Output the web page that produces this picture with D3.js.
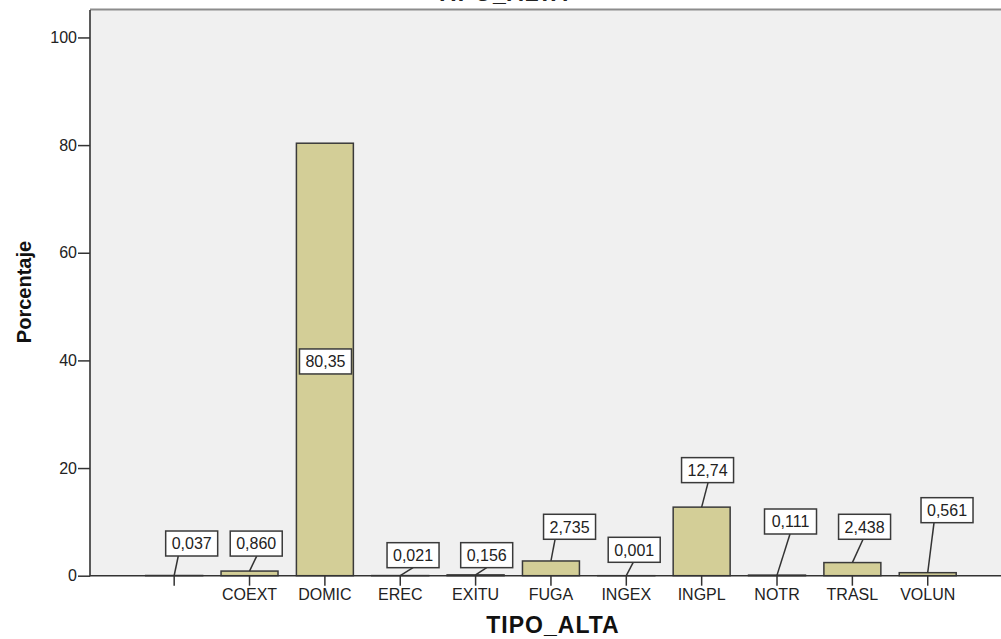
<!DOCTYPE html>
<html>
<head>
<meta charset="utf-8">
<script src="https://cdn.jsdelivr.net/npm/d3@7"></script>
<style>
  html, body { margin: 0; padding: 0; background: #ffffff; }
  svg { display: block; }
  text { font-family: "Liberation Sans", Arial, sans-serif; }
</style>
</head>
<body>
<svg id="chart" width="1001" height="639"></svg>
<script>
// ---- data ----
const categories = ["", "COEXT", "DOMIC", "EREC", "EXITU", "FUGA", "INGEX", "INGPL", "NOTR", "TRASL", "VOLUN"];
const values     = [0.037, 0.860, 80.35, 0.021, 0.156, 2.735, 0.001, 12.74, 0.111, 2.438, 0.561];
const valueLabels = ["0,037", "0,860", "80,35", "0,021", "0,156", "2,735", "0,001", "12,74", "0,111", "2,438", "0,561"];
const yTicks = [0, 20, 40, 60, 80, 100];

// ---- label placement (px offsets, layout only) ----
const labelDx   = [17.5, 6.7, 0.6, 12.8, 11.1, 18.6, 7.9, 5.9, 13.5, 12.2, 19.3];
const labelDy   = [-19.5, -15, 0, -7.9, -7.2, -21.7, -13.4, -24.5, -41.1, -23.3, -50];
const lineDx    = [-13.4, 0.5, 0, 0, 0, -14.5, -1, 0.5, -0.5, -1.5, -13];
const inside    = [false, false, true, false, false, false, false, false, false, false, false];

(function () {
const svg = d3.select("#chart");
const pLeft = 90, pTop = 10, pBottom = 575.7, pRight = 1001;

const x = d3.scaleBand().domain(categories.map((c, i) => i))
  .range([136.5, 965.4]).paddingInner(0.244).paddingOuter(0.122);
const y = d3.scaleLinear().domain([0, 105.1]).range([pBottom, pTop]);

// plot background
svg.append("rect").attr("x", pLeft).attr("y", pTop).attr("width", pRight - pLeft).attr("height", pBottom - pTop)
  .attr("fill", "#f0f0f0");
svg.append("line").attr("x1", pLeft).attr("x2", pRight).attr("y1", pTop - 0.5).attr("y2", pTop - 0.5)
  .attr("stroke", "#8c8c8c").attr("stroke-width", 2);

// top (cut off by the picture's edge, as in the reference) title
svg.append("text").attr("x", 502).attr("y", 0.5).attr("text-anchor", "middle")
  .attr("font-size", 23).attr("font-weight", "bold").attr("fill", "#222")
  .attr("letter-spacing", 1).text("TIPO_ALTA");

// bars
svg.append("g").selectAll("rect").data(values).join("rect")
  .attr("x", (d, i) => x(i))
  .attr("y", d => y(d))
  .attr("width", x.bandwidth())
  .attr("height", d => Math.max(0, y(0) - y(d)))
  .attr("fill", "#d3ce97")
  .attr("stroke", "#3a3a3a")
  .attr("stroke-width", 1.5);

// axes
const yAxis = d3.axisLeft(y).tickValues(yTicks).tickSize(12).tickPadding(1).tickFormat(d3.format("d"));
const gy = svg.append("g").attr("transform", `translate(${pLeft},0)`).call(yAxis);
gy.select(".domain").remove();
gy.selectAll(".tick line").attr("stroke", "#333").attr("stroke-width", 1.5);
gy.selectAll(".tick text").attr("font-size", 16).attr("fill", "#222")
  .attr("font-family", "'Liberation Sans', Arial, sans-serif");
svg.append("line").attr("x1", pLeft).attr("x2", pLeft).attr("y1", pTop).attr("y2", pBottom + 0.5)
  .attr("stroke", "#333").attr("stroke-width", 1.6);

const xAxis = d3.axisBottom(x).tickSize(10).tickPadding(2.6).tickFormat(i => categories[i]);
const gx = svg.append("g").attr("transform", `translate(0,${pBottom})`).call(xAxis);
gx.select(".domain").remove();
gx.selectAll(".tick line").attr("stroke", "#333").attr("stroke-width", 1.5);
gx.selectAll(".tick text").attr("font-size", 16).attr("fill", "#222")
  .attr("font-family", "'Liberation Sans', Arial, sans-serif");
svg.append("line").attr("x1", pLeft).attr("x2", pRight).attr("y1", pBottom).attr("y2", pBottom)
  .attr("stroke", "#333").attr("stroke-width", 1.6);

// value labels
const boxW = 52, boxH = 25;
const lg = svg.append("g");
values.forEach((v, i) => {
  const cx = x(i) + x.bandwidth() / 2;
  const yt = y(v);
  let bx, by; // box center
  if (inside[i]) {
    bx = cx + labelDx[i];
    by = y(v / 2) + 2;
  } else {
    bx = cx + labelDx[i];
    const bottomY = yt + labelDy[i];
    by = bottomY - boxH / 2;
    lg.append("line").attr("x1", cx).attr("y1", yt).attr("x2", bx + lineDx[i]).attr("y2", bottomY)
      .attr("stroke", "#333").attr("stroke-width", 1.5);
  }
  lg.append("rect").attr("x", bx - boxW / 2).attr("y", by - boxH / 2).attr("width", boxW).attr("height", boxH)
    .attr("fill", "#ffffff").attr("stroke", "#3a3a3a").attr("stroke-width", 1.5);
  lg.append("text").attr("x", bx).attr("y", by).attr("dy", "0.36em").attr("text-anchor", "middle")
    .attr("font-size", 16).attr("fill", "#222").text(valueLabels[i]);
});

// axis titles
svg.append("text").attr("x", 553).attr("y", 633).attr("text-anchor", "middle")
  .attr("font-size", 23).attr("font-weight", "bold").attr("fill", "#111")
  .attr("letter-spacing", 1).text("TIPO_ALTA");
svg.append("text").attr("transform", "translate(31,292) rotate(-90)").attr("text-anchor", "middle")
  .attr("font-size", 20).attr("font-weight", "bold").attr("fill", "#111").text("Porcentaje");
})();
</script>
</body>
</html>
